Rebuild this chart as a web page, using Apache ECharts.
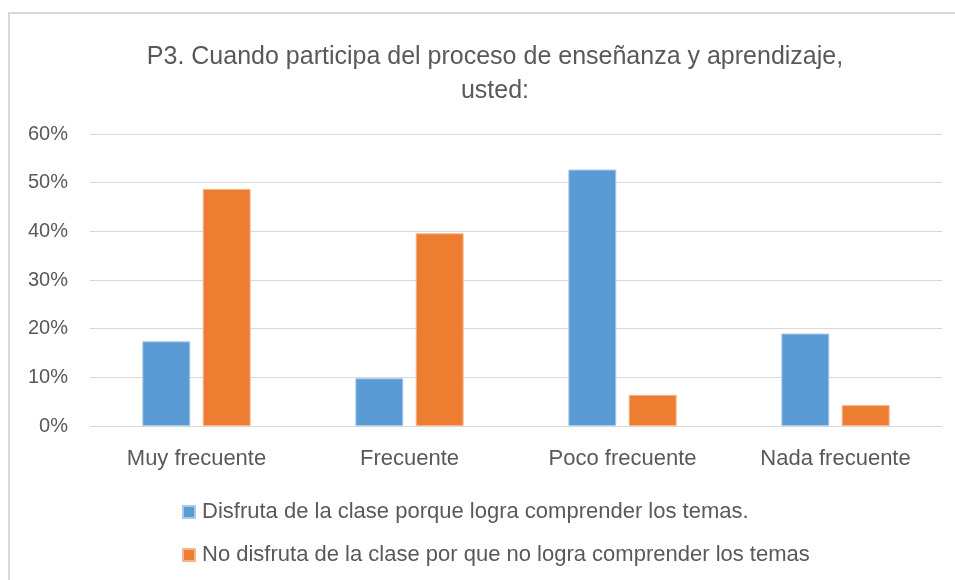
<!DOCTYPE html>
<html>
<head>
<meta charset="utf-8">
<script src="https://cdn.jsdelivr.net/npm/echarts@6/dist/echarts.min.js"></script>
<style>html,body{margin:0;padding:0;background:#fff}#c{width:955px;height:580px}</style>
</head>
<body>
<div id="c"></div>
<script>
const titleText = 'P3. Cuando participa del proceso de enseñanza y aprendizaje,\nusted:';
const categories = ['Muy frecuente', 'Frecuente', 'Poco frecuente', 'Nada frecuente'];
const seriesNames = ['Disfruta de la clase porque logra comprender los temas.', 'No disfruta de la clase por que no logra comprender los temas'];
const enjoyValues = [17.4, 9.8, 52.7, 19.0];
const notEnjoyValues = [48.7, 39.6, 6.4, 4.3];
const yTicks = [0, 10, 20, 30, 40, 50, 60];

const font = 'Liberation Sans';
const chart = echarts.init(document.getElementById('c'));
chart.setOption({
  animation: false,
  backgroundColor: '#ffffff',
  textStyle: { fontFamily: font },
  graphic: [
    { type: 'line', shape: { x1: 8, y1: 13, x2: 955, y2: 13 }, style: { stroke: '#d9d9d9', lineWidth: 2 } },
    { type: 'line', shape: { x1: 9, y1: 12, x2: 9, y2: 580 }, style: { stroke: '#d9d9d9', lineWidth: 2 } }
  ],
  title: {
    text: titleText,
    left: 490, top: 35, textAlign: 'center',
    textStyle: { fontFamily: font, fontSize: 25, fontWeight: 'normal', color: '#595959', lineHeight: 34 }
  },
  grid: { left: 90, right: 13, top: 134, bottom: 154, containLabel: false },
  legend: {
    orient: 'vertical', left: 177, top: 496, itemGap: 21,
    itemWidth: 12, itemHeight: 12, icon: 'rect',
    textStyle: { fontFamily: font, fontSize: 22, color: '#595959', padding: [0, 0, 0, 2] },
    data: seriesNames
  },
  xAxis: {
    type: 'category', data: categories,
    axisLine: { lineStyle: { color: '#d9d9d9', width: 1 } },
    axisTick: { show: false },
    axisLabel: { fontFamily: font, fontSize: 22, color: '#595959', margin: 22 }
  },
  yAxis: {
    type: 'value', min: yTicks[0], max: yTicks[yTicks.length - 1], interval: 10,
    axisLine: { show: false }, axisTick: { show: false },
    splitLine: { lineStyle: { color: '#d9d9d9', width: 1 } },
    axisLabel: { fontFamily: font, fontSize: 20, color: '#595959', margin: 22, formatter: v => v + '%' }
  },
  series: [
    { name: seriesNames[0], type: 'bar', data: enjoyValues, barWidth: '22.5%', barGap: '26%',
      itemStyle: { color: '#5b9bd5', borderColor: '#a9c9ea', borderWidth: 1 } },
    { name: seriesNames[1], type: 'bar', data: notEnjoyValues, barWidth: '22.5%', barGap: '26%',
      itemStyle: { color: '#ed7d31', borderColor: '#f5b58e', borderWidth: 1 } }
  ]
});
</script>
</body>
</html>
